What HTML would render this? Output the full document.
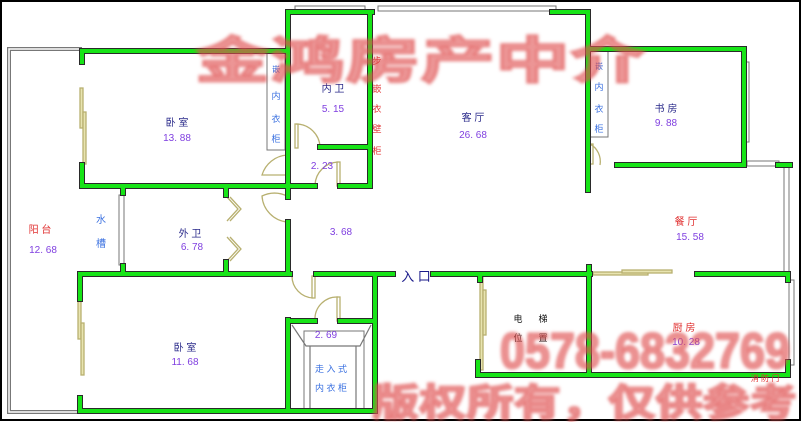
<!DOCTYPE html>
<html><head><meta charset="utf-8"><style>
html,body{margin:0;padding:0;background:#fff}
svg{display:block}
text{font-family:"Liberation Sans","Noto Sans CJK SC",sans-serif}
.c{font-family:"Noto Sans CJK SC","WenQuanYi Zen Hei",sans-serif}
</style></head><body>
<svg width="802" height="422" viewBox="0 0 802 422" xmlns="http://www.w3.org/2000/svg">
<defs>
<path id="w" d="M82 62 V51 H288 M82 165 V186 H315 M340 186 H370 M288 12 V197 M288 222 V273 M288 12 H372 M370 12 V186 M320 147 H370 M552 12 H588 V190 M588 49 H744 V165 H617 M778 165 H790 M123 187 V193 M123 266 V274 M226 186 V195 M226 262 V274 M80 274 H290 M316 274 H393 M433 274 H590 M697 274 H788 V280 M788 362 V375 H478 V362 M480 274 V280 M589 267 V375 M80 274 V299 M80 398 V411 H375 V274 M288 320 V411 M288 321 H315 M340 321 H375"/>
</defs>
<rect x="1" y="1" width="799" height="419" fill="#fff" stroke="#000" stroke-width="2"/>
<path d="M82 49 H9 V412 H82" fill="none" stroke="#777" stroke-width="4"/>
<path d="M82 49 H9 V412 H82" fill="none" stroke="#fff" stroke-width="1.5"/>
<g fill="#fff" stroke="#777" stroke-width="1">
<rect x="295" y="6" width="70" height="5"/>
<rect x="378" y="6" width="178" height="5"/>
<rect x="744" y="62" width="5" height="80"/>
<rect x="747" y="161" width="32" height="5"/>
<rect x="784" y="165" width="5" height="110"/>
<rect x="789" y="280" width="5" height="85"/>
<rect x="119" y="195" width="5" height="70"/>
<rect x="267" y="52" width="18" height="98"/>
<rect x="590" y="51" width="18" height="86"/>
<rect x="304" y="331" width="60" height="80"/>
</g>
<g fill="none" stroke="#777" stroke-width="1.2">
<path d="M292 325 L306 346 H360 L371 325"/>
<path d="M310 346 V411 M356 346 V411"/>
</g>
<g fill="none" stroke="#b8b070" stroke-width="1.3">
<rect x="80" y="88" width="3" height="40" fill="#e8e4b0"/>
<rect x="83" y="112" width="3" height="52" fill="#e8e4b0"/>
<rect x="78" y="299" width="3" height="40" fill="#e8e4b0"/>
<rect x="81" y="323" width="3" height="52" fill="#e8e4b0"/>
<rect x="480" y="275" width="3" height="95" fill="#e8e4b0"/>
<rect x="483" y="290" width="3" height="45" fill="#e8e4b0"/>
<rect x="593" y="272" width="55" height="3" fill="#e8e4b0"/>
<rect x="622" y="270" width="50" height="3" fill="#e8e4b0"/>
<path d="M296 124 A24 24 0 0 1 320 147"/><rect x="295" y="124" width="3" height="24"/>
<path d="M287 155 A28 28 0 0 0 262 175 H287"/>
<path d="M287 196 A28 28 0 0 0 262 196 A28 28 0 0 0 287 222"/>
<path d="M315 185 A24 24 0 0 1 338 162"/><rect x="337" y="162" width="3" height="24"/>
<path d="M590 144 A20 20 0 0 1 600 165"/><rect x="590" y="144" width="3" height="20"/>
<path d="M292 276 A22 22 0 0 0 313 298"/><rect x="312" y="276" width="3" height="22"/>
<path d="M315 320 A22 22 0 0 1 338 297"/><rect x="337" y="297" width="3" height="24"/>
<path d="M227 197 L238 209 L227 221 M230 197 L241 209 L230 221"/>
<path d="M227 237 L238 249 L227 261 M230 237 L241 249 L230 261"/>
</g>
<g fill="none" stroke-linecap="square">
<use href="#w" stroke="#2a2a2a" stroke-width="6"/>
<use href="#w" stroke="#17e417" stroke-width="4"/>
</g>
<g class="c" text-anchor="middle" font-size="10">
<g fill="#2a2a8a"><text x="177" y="126">卧 室</text><text x="333" y="92">内 卫</text><text x="190" y="237">外 卫</text><text x="185" y="351">卧 室</text><text x="666" y="112">书 房</text><text x="473" y="121">客 厅</text></g>
<g fill="#8040e0"><text x="177" y="141">13. 88</text><text x="333" y="112">5. 15</text><text x="322" y="169">2. 23</text><text x="473" y="138">26. 68</text><text x="666" y="126">9. 88</text><text x="43" y="253">12. 68</text><text x="192" y="250">6. 78</text><text x="341" y="235">3. 68</text><text x="690" y="240">15. 58</text><text x="185" y="365">11. 68</text><text x="326" y="338">2. 69</text><text x="686" y="345">10. 28</text></g>
<g fill="#e03030"><text x="40" y="233">阳 台</text><text x="686" y="225">餐 厅</text><text x="684" y="331">厨 房</text><text x="765" y="381" font-size="8">消 防 门</text></g>
<g fill="#3a70e0"><text x="101" y="223">水</text><text x="101" y="247">槽</text>
<text x="276" y="72" font-size="8">嵌</text><text x="276" y="99" font-size="9">内</text><text x="276" y="122" font-size="9">衣</text><text x="276" y="142" font-size="9">柜</text>
<text x="599" y="69" font-size="8">嵌</text><text x="599" y="90" font-size="9">内</text><text x="599" y="112" font-size="9">衣</text><text x="599" y="132" font-size="9">柜</text>
<text x="331" y="372" font-size="9">走 入 式</text><text x="331" y="391" font-size="9">内 衣 柜</text></g>
<g fill="#e03030" font-size="9"><text x="377" y="64">步</text><text x="377" y="92">嵌</text><text x="377" y="112">衣</text><text x="377" y="132">壁</text><text x="377" y="154">柜</text></g>
<g fill="#111" font-size="9"><text x="518" y="322">电</text><text x="543" y="322">梯</text><text x="518" y="341">位</text><text x="543" y="341">置</text></g>
<text x="416" y="281" fill="#1a1a8a" font-size="13">入 口</text>
</g>
<g class="c" fill="#e05050" fill-opacity="0.6" stroke="#e05050" stroke-opacity="0.6" stroke-width="2" font-weight="bold" style="filter:blur(1.6px)">
<text x="195" y="78" font-size="50" textLength="450" lengthAdjust="spacingAndGlyphs">金鸿房产中介</text>
<text x="500" y="368" font-size="50" font-family="Liberation Sans" textLength="290" lengthAdjust="spacingAndGlyphs">0578-6832769</text>
<text x="372" y="416" font-size="38" textLength="425" lengthAdjust="spacingAndGlyphs">版权所有，仅供参考</text>
</g>
</svg>
</body></html>
